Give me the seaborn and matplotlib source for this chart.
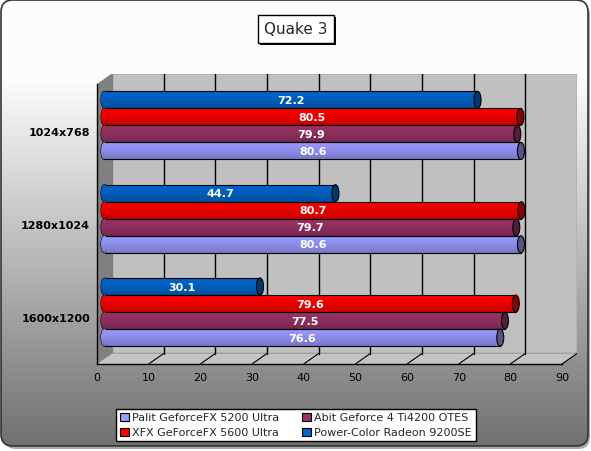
import numpy as np
import pandas as pd
import matplotlib
matplotlib.use("Agg")
import matplotlib.pyplot as plt
import seaborn as sns
from matplotlib.patches import Rectangle, Polygon, Ellipse, FancyBboxPatch, Patch
from matplotlib.colors import to_rgb

# ---------------- data ----------------
title = "Quake 3"
resolutions = ["1024x768", "1280x1024", "1600x1200"]
cards = ["Palit GeforceFX 5200 Ultra", "Abit Geforce 4 Ti4200 OTES",
         "XFX GeForceFX 5600 Ultra", "Power-Color Radeon 9200SE"]
palit = [80.6, 80.6, 76.6]
abit = [79.9, 79.7, 77.5]
xfx = [80.5, 80.7, 79.6]
powercolor = [72.2, 44.7, 30.1]
x_ticks = [0, 10, 20, 30, 40, 50, 60, 70, 80, 90]

card_colors = {
    cards[0]: "#9999ff",
    cards[1]: "#993366",
    cards[2]: "#ff0000",
    cards[3]: "#0066cc",
}

df = pd.DataFrame({
    "Resolution": resolutions * 4,
    "Card": [cards[0]] * 3 + [cards[1]] * 3 + [cards[2]] * 3 + [cards[3]] * 3,
    "FPS": palit + abit + xfx + powercolor,
})

# ---------------- figure ----------------
sns.set_style("white")
plt.rcParams['font.family'] = ['DejaVu Sans']
W, H = 591, 452
fig = plt.figure(figsize=(W / 100, H / 100), dpi=100)
fig.patch.set_facecolor("white")

# background panel with gradient
bg = fig.add_axes([0, 0, 1, 1], zorder=-10)
bg.set_xlim(0, W)
bg.set_ylim(H, 0)
bg.axis("off")
shadow = FancyBboxPatch((4, 4), 586, 446, boxstyle="round,pad=0,rounding_size=12",
                        fc="#a8a8a8", ec="none", zorder=1)
bg.add_patch(shadow)
panel = FancyBboxPatch((1, 1), 587, 446, boxstyle="round,pad=0,rounding_size=12",
                       fc="none", ec="#333333", lw=1.2, zorder=3)
bg.add_patch(panel)
rows = np.arange(H)
g = np.where(rows < 80, 252, 252 - (252 - 112) * (rows - 80) / (448 - 80)) / 255.0
img = np.ones((H, W, 3)) * g[:, None, None]
im = bg.imshow(img, extent=[0, W, H, 0], aspect="auto", zorder=2, interpolation="none")
im.set_clip_path(panel)

# title box with shadow
bg.add_patch(Rectangle((259.5, 17.5), 76, 28, fc="black", ec="none", zorder=4))
bg.add_patch(Rectangle((257.5, 15.5), 76, 28, fc="white", ec="black", lw=1, zorder=5))
bg.text(295.5, 29.5, title, ha="center", va="center", fontsize=11, zorder=6)

# ---------------- main axes (3D-ish) ----------------
front_left, front_right = 97, 562
front_top, front_bot = 85, 365
DXpx, DYpx = 15, 10.5
ax_left, ax_right = front_left, front_right + DXpx
ax_top, ax_bot = front_top - DYpx, front_bot
ax = fig.add_axes([ax_left / W, 1 - ax_bot / H, (ax_right - ax_left) / W, (ax_bot - ax_top) / H],
                  zorder=1)
ax.patch.set_alpha(0)
XMAX = x_ticks[-1]
NCAT = len(resolutions)
ux = (front_right - front_left) / XMAX
uy = (front_bot - front_top) / NCAT
DX = DXpx / ux
DY = DYpx / uy
y_top, y_bot = -0.5, NCAT - 0.5

# walls
ax.add_patch(Rectangle((DX, y_top - DY), XMAX, NCAT, fc="#c0c0c0", ec="#808080", lw=1, zorder=0.5))
ax.add_patch(Polygon([(0, y_top), (DX, y_top - DY), (DX, y_bot - DY), (0, y_bot)],
                     closed=True, fc="#808080", ec="none", zorder=0.6))
ax.add_patch(Polygon([(0, y_bot), (XMAX, y_bot), (XMAX + DX, y_bot - DY), (DX, y_bot - DY)],
                     closed=True, fc="#c4c4c4", ec="none", zorder=0.6))
for t in x_ticks[1:-1]:
    ax.plot([t + DX, t + DX], [y_top - DY, y_bot - DY], color="black", lw=1, zorder=0.7)
for t in x_ticks[1:]:
    ax.plot([t, t + DX], [y_bot, y_bot - DY], color="black", lw=0.8, zorder=0.7)

# bars
hue_order = [cards[3], cards[2], cards[1], cards[0]]
sns.barplot(data=df, x="FPS", y="Resolution", hue="Card", order=resolutions,
            hue_order=hue_order, palette=card_colors, orient="h", width=0.73,
            saturation=1, edgecolor="black", linewidth=0.8, legend=False,
            errorbar=None, ax=ax, zorder=3)

capw = 7 / ux
for cont, card in zip(ax.containers, hue_order):
    base = np.array(to_rgb(card_colors[card]))
    for bar, v in zip(cont, cont.datavalues):
        bar.set_x(bar.get_x() + DX / 2)
        bar.set_y(bar.get_y() - DY / 2)
        x0, y0 = bar.get_x(), bar.get_y()
        w, h = bar.get_width(), bar.get_height()
        t = np.linspace(0, 1, 40)
        f = 1.0 - 0.22 * t ** 1.4
        grad = np.clip(base[None, :] * f[:, None], 0, 1)[:, None, :]
        # rounded left end (outline below, gradient fill above the bar edge)
        left_cap = Ellipse((x0, y0 + h / 2), capw, h, fc="none", ec="black",
                           lw=0.8, zorder=2.9)
        ax.add_patch(left_cap)
        gi = ax.imshow(grad, extent=[x0, x0 + w, y0 + h, y0], aspect="auto",
                       zorder=2.95, interpolation="bilinear")
        gi.set_clip_path(bar)
        gl = ax.imshow(grad, extent=[x0 - capw, x0 + capw, y0 + h, y0], aspect="auto",
                       zorder=3.05, interpolation="bilinear")
        gl.set_clip_path(left_cap)
        bar.set_facecolor("none")
        # end cap
        ax.add_patch(Ellipse((x0 + w, y0 + h / 2), capw, h, fc=base * 0.55, ec="black",
                             lw=0.8, zorder=3.1))
        ax.text(x0 + w / 2, y0 + h / 2, f"{v:.1f}", color="white", fontweight="bold",
                fontsize=8, ha="center", va="center", zorder=4)

ax.set_xlim(0, XMAX + DX)
ax.set_ylim(y_bot, y_top - DY)

# axes styling
ax.set_xticks(x_ticks)
ax.set_xticklabels([str(t) for t in x_ticks])
ax.set_yticks(range(NCAT))
ax.set_yticklabels(resolutions, fontweight="bold", fontsize=8)
ax.set_yticks([i - 0.5 for i in range(NCAT + 1)], minor=True)
ax.tick_params(axis="y", which="major", length=0, pad=5, labelcolor="black")
ax.tick_params(axis="y", which="minor", length=4, width=1, direction="out", color="black")
ax.tick_params(axis="x", length=4, width=1, direction="out", pad=2, labelsize=8,
               color="black", labelcolor="black")
for s in ["top", "right"]:
    ax.spines[s].set_visible(False)
for s in ["left", "bottom"]:
    ax.spines[s].set_color("black")
    ax.spines[s].set_linewidth(1)
ax.spines["left"].set_bounds(y_top, y_bot)
ax.spines["bottom"].set_bounds(0, XMAX)
ax.set_xlabel("")
ax.set_ylabel("")
ax.grid(False)

# legend
leg_order = [cards[0], cards[2], cards[1], cards[3]]
handles = [Patch(fc=card_colors[c], ec="black", lw=0.8, label=c) for c in leg_order]
leg = fig.legend(handles=handles, ncol=2, loc="center", bbox_to_anchor=(296 / W, 1 - 426 / H),
                 fontsize=8, frameon=True, fancybox=False, edgecolor="black", framealpha=1,
                 handlelength=0.75, handleheight=0.75, handletextpad=0.3, columnspacing=2.1,
                 borderpad=0.35, labelspacing=0.45, borderaxespad=0)
leg.get_frame().set_linewidth(1)

fig.savefig("out.png", dpi=100)
